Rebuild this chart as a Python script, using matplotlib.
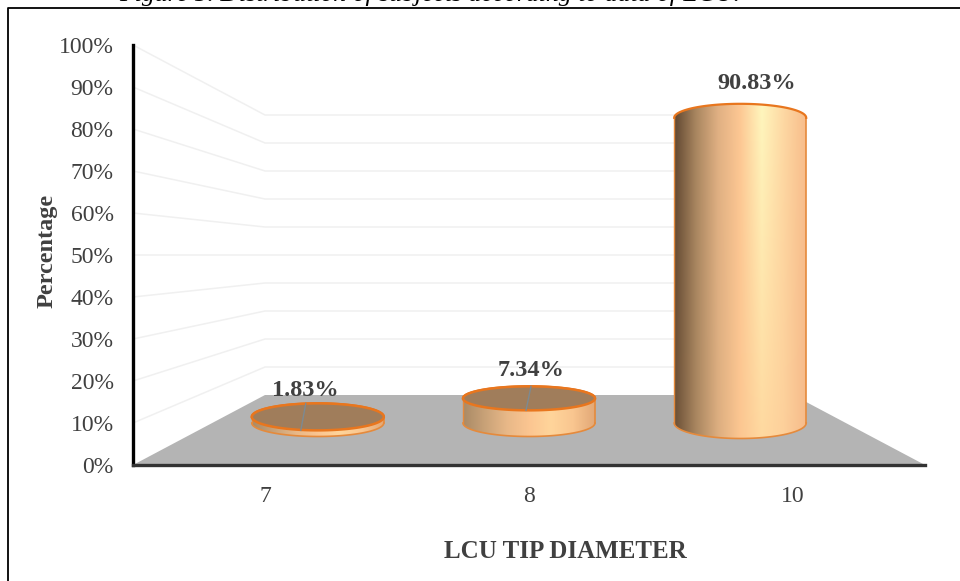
import numpy as np
import matplotlib
matplotlib.use('Agg')
import matplotlib.pyplot as plt
from matplotlib.colors import LinearSegmentedColormap
from matplotlib.patches import PathPatch, Polygon
from matplotlib.path import Path
from matplotlib.lines import Line2D

# Data
categories = ["7", "8", "10"]
percentages = [1.83, 7.34, 90.83]
data_labels = ["1.83%", "7.34%", "90.83%"]
y_ticks = list(range(0, 101, 10))

title_text = "Figure 5. Distribution of subjects according to data of LCU."
x_title = "LCU TIP DIAMETER"
y_title = "Percentage"

W, H = 960, 581
TEXT = '#404040'
ORANGE = '#e8761e'

plt.rcParams['font.family'] = ['Liberation Serif', 'DejaVu Serif']

fig = plt.figure(figsize=(W / 100, H / 100), dpi=100)
fig.patch.set_facecolor('white')

# front plane of the fake 3D box: x 133-925 px, y 45-465 px
ax = fig.add_axes([133 / W, 1 - 465 / H, 792 / W, 420 / H])
ax.patch.set_alpha(0)
x_lim = (-0.5, 2.5)
y_lim = (0, 100)
PX_X = 792 / 3
PX_Y = 420 / 100


# depth 0 is the front of the box, depth 1 the back wall
def project(x, value, depth):
    shrink = 1 - depth / 3
    return 1 + (x - 1) * shrink, depth * 100 / 6 + value * shrink


# floor
floor = [project(-0.5, 0, 0), project(-0.5, 0, 1), project(2.5, 0, 1), project(2.5, 0, 0)]
ax.add_patch(Polygon(floor, closed=True, facecolor='#b4b4b4', edgecolor='none', zorder=1))

# gridlines on the side wall and on the back wall
for v in y_ticks[1:]:
    a = project(-0.5, v, 0)
    b = project(-0.5, v, 1)
    c = project(2.5, v, 1)
    ax.plot([a[0], b[0], c[0]], [a[1], b[1], c[1]], color='#f0f0f0', lw=1.1, zorder=0.5)

# colour across the cylinder, left to right
stops_top = ['#5f4630', '#a98660', '#e0b083', '#fdc793', '#fff6bd', '#fdd8a3', '#f8bd8b']
stops_low = ['#6a4f36', '#a98660', '#dcae80', '#fcc691', '#ffd9a0', '#fdd09b', '#f6bb8b']
stops_short = ['#a98a66', '#c9a278', '#e8b888', '#fbc591', '#ffd59b', '#f9c690', '#e2a877']
cmap_top = LinearSegmentedColormap.from_list('top', stops_top)
cmap_low = LinearSegmentedColormap.from_list('low', stops_low)
cmap_short = LinearSegmentedColormap.from_list('short', stops_short)

BAR_DEPTH = 0.6
half_w = 66 / PX_X
theta = np.linspace(0, np.pi, 60)
label_offsets = [(-12, 26), (2, 28), (16, 34)]
cap_semi = [13.5, 12, 14]

for i, value in enumerate(percentages):
    xc, y0 = project(i, 0, BAR_DEPTH)
    _, y1 = project(i, value, BAR_DEPTH)
    tall = value > 50
    semi_top = cap_semi[i] / PX_Y
    semi_low = (15.5 if tall else 13.5) / PX_Y

    top_x = xc + half_w * np.cos(theta)
    top_y = y1 + semi_top * np.sin(theta)
    low_x = xc - half_w * np.cos(theta)
    low_y = y0 - semi_low * np.sin(theta)
    outline = np.column_stack([np.r_[top_x, low_x], np.r_[top_y, low_y]])
    body = PathPatch(Path(np.vstack([outline, outline[:1]])), facecolor='none', edgecolor='none')
    ax.add_patch(body)

    grad = np.linspace(0, 1, 256)
    if tall:
        colors_top = cmap_top(grad)
        colors_low = cmap_low(grad)
        mix = np.linspace(0, 1, 120)[:, None, None]
        img = colors_top[None, :, :] * (1 - mix) + colors_low[None, :, :] * mix
    else:
        img = cmap_short(grad)[None, :, :]
    im = ax.imshow(img, extent=(xc - half_w, xc + half_w, y0 - semi_low, y1 + semi_top),
                   origin='upper', aspect='auto', zorder=2, interpolation='bilinear')
    im.set_clip_path(body)

    # sides and bottom edge
    ax.plot(low_x, low_y, color='#e58a3c', lw=1.2, zorder=3)
    ax.plot([xc - half_w] * 2, [y0, y1], color='#e58a3c', lw=1.0, zorder=3)
    ax.plot([xc + half_w] * 2, [y0, y1], color='#e58a3c', lw=1.2, zorder=3)
    ax.plot(top_x, top_y, color=ORANGE, lw=1.6, zorder=4)

    if not tall:
        # the short bars show their flat top
        t = np.linspace(0, 2 * np.pi, 120)
        ax.fill(xc + half_w * np.cos(t), y1 + semi_top * np.sin(t), facecolor='#a07d5b',
                edgecolor=ORANGE, lw=1.8, zorder=4)
        # leader line of the data label
        ax.plot([xc + label_offsets[i][0] / PX_X - 5 / PX_X, xc + label_offsets[i][0] / PX_X],
                [y1 - semi_top, y1 + semi_top], color='#7c8a92', lw=1.0, zorder=5)

    ax.annotate(data_labels[i], xy=(xc, y1), xytext=label_offsets[i], textcoords='offset pixels',
                ha='center', va='center', fontsize=17.5, fontweight='bold', color=TEXT, zorder=6)

ax.set_xlim(x_lim)
ax.set_ylim(y_lim)
ax.set_xticks(range(len(categories)))
ax.set_xticklabels(categories)
ax.set_yticks(y_ticks)
ax.set_yticklabels([f"{v}%" for v in y_ticks])
ax.tick_params(axis='both', length=0, labelsize=17, labelcolor=TEXT)
ax.tick_params(axis='y', pad=14)
ax.tick_params(axis='x', pad=15)

for side in ['top', 'right']:
    ax.spines[side].set_visible(False)
ax.spines['left'].set_color('black')
ax.spines['left'].set_linewidth(2.4)
ax.spines['bottom'].set_color('#333333')
ax.spines['bottom'].set_linewidth(2.4)

# axis titles
fig.text(47 / W, 1 - 251 / H, y_title, rotation=90, ha='center', va='center',
         fontsize=17.5, fontweight='bold', color=TEXT)
fig.text(565 / W, 1 - 552 / H, x_title, ha='center', va='center',
         fontsize=18, fontweight='bold', color=TEXT)

# chart frame, only top and left are inside the crop
fig.add_artist(Line2D([8 / W, 8 / W, 1], [0, 1 - 7.5 / H, 1 - 7.5 / H], color='black', lw=1.3))

# caption above the frame, cut off by the crop
fig.text(430 / W, 1 - 1 / H, title_text, ha='center', va='baseline', fontsize=18.5,
         style='italic', color='black')

fig.savefig('out.png', dpi=100)
